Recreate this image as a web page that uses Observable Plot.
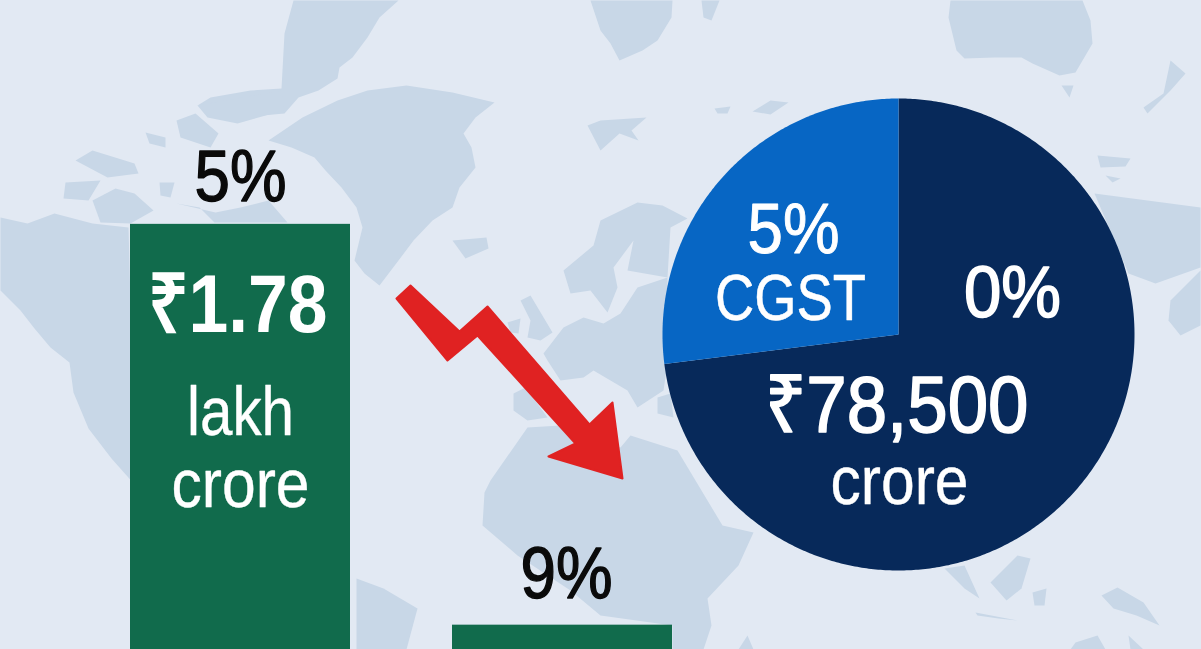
<!DOCTYPE html>
<html>
<head>
<meta charset="utf-8">
<style>html,body{margin:0;padding:0;background:#e2e9f3;overflow:hidden}svg{display:block}</style>
<script src="https://cdn.jsdelivr.net/npm/d3@7"></script>
<script src="https://cdn.jsdelivr.net/npm/@observablehq/plot@0.6"></script>
</head>
<body>
<script>
// Chart data
const barRates = ["5%", "9%"];
const barValues = [1.78, 0.785]; // lakh crore
const sliceNames = ["0%", "5% CGST"];
const sliceShares = [73, 27];

// Backdrop world-map shapes
const land = [
  [[293,0],[398,0],[379,17],[367,37],[352,57],[339,67],[337,78],[318,90],[298,97],[284,113],[262,115],[225,108],[197,105],[210,97],[250,90],[281,88],[284,33]],
  [[268,140],[302,117],[337,100],[367,90],[406,85],[452,92],[494,102],[475,117],[463,133],[471,147],[475,167],[459,187],[452,207],[432,220],[413,240],[398,260],[379,285],[364,273],[354,260],[362,227],[356,207],[341,187],[325,170],[314,157],[291,147]],
  [[65,182],[100,180],[88,200],[63,198]],
  [[92,200],[115,188],[134,193],[153,210],[130,223],[100,222]],
  [[75,160],[92,150],[134,163],[138,173],[107,177]],
  [[176,120],[195,113],[218,133],[210,147],[180,137]],
  [[197,105],[281,90],[283,110],[237,123],[207,117]],
  [[145,132],[165,137],[165,147],[149,143]],
  [[176,203],[199,207],[214,222],[287,222],[268,200],[240,207],[215,212]],
  [[159,182],[174,182],[170,197],[160,195]],
  [[0,217],[27,223],[54,213],[92,223],[128,227],[135,485],[111,458],[88,428],[73,392],[69,362],[50,347],[34,328],[20,310],[0,290]],
  [[356,578],[383,588],[417,608],[406,649],[356,649]],
  [[950,0],[948,17],[956,50],[964,58],[994,57],[1021,57],[1032,63],[1059,75],[1075,72],[1092,43],[1090,20],[1082,0]],
  [[1061,85],[1073,85],[1069,97]],
  [[590,0],[672,0],[671,17],[657,40],[642,50],[619,60],[610,43],[600,30]],
  [[701,0],[719,0],[711,20],[703,17]],
  [[1170,60],[1185,73],[1170,90],[1147,113],[1143,107],[1163,93]],
  [[714,108],[730,106],[727,113],[717,113]],
  [[752,111],[770,100],[788,102],[770,114]],
  [[587,125],[600,120],[646,117],[631,130],[638,140],[619,133],[600,150]],
  [[452,240],[486,237],[488,248],[465,258]],
  [[563,270],[593,245],[600,220],[637,202],[662,205],[687,218],[670,227],[667,277],[627,270],[633,240],[613,267],[617,287],[607,312],[590,290],[570,293]],
  [[543,353],[563,327],[583,317],[603,323],[620,313],[637,287],[667,277],[667,363],[663,390],[637,407],[627,390],[593,370],[583,377],[560,380],[547,360]],
  [[520,300],[530,295],[552,332],[540,340],[527,337],[530,320]],
  [[507,322],[520,318],[518,333],[510,332]],
  [[513,393],[525,387],[547,417],[527,420],[513,410]],
  [[657,397],[670,393],[673,417],[657,413]],
  [[484,492],[490,480],[527,427],[560,425],[620,447],[630,435],[677,450],[692,475],[722,525],[753,532],[738,565],[707,598],[711,625],[703,649],[672,649],[672,625],[600,615],[570,590],[517,555],[482,525]],
  [[1094,193],[1200,207],[1200,267],[1155,283],[1128,273]],
  [[1097,155],[1130,158],[1125,166],[1100,167]],
  [[1105,175],[1120,178],[1112,182]],
  [[1170,300],[1200,270],[1200,325],[1180,335],[1168,320]],
  [[990,582],[1017,555],[1030,558],[1021,588],[1006,600]],
  [[1101,595],[1117,587],[1143,602],[1159,625],[1136,615],[1113,608]],
  [[1032,592],[1046,588],[1044,605],[1034,605]],
  [[944,568],[964,565],[979,598],[964,588]],
  [[975,612],[1017,620],[998,618],[977,615]],
  [[1075,642],[1097,635],[1105,649],[1070,649]],
  [[1128,635],[1143,649],[1130,649]],
  [[738,649],[747,635],[753,649]]
];
const arrowShape = [[396,298],[447,360],[477,335],[575,443],[548,456],[622,478],[612,402],[589,424],[487,306],[459,331],[410,285]];

// Label text
const pieLabels = [
  {text: "5%", x: 793, y: 252, size: 70, halo: 1},
  {text: "CGST", x: 790, y: 319, size: 64, halo: 0.5},
  {text: "0%", x: 1012, y: 316, size: 72, halo: 1.6},
  {text: "₹78,500", x: 896, y: 431, size: 80, halo: 1.6},
  {text: "crore", x: 899, y: 503, size: 68, halo: 0.4}
];
const fittedWidths = {"5%": 92, "9%": 92, "0%": 97, "CGST": 151, "₹78,500": 264, "crore": 138, "lakh": 107, "₹1.78": 180};

// Styles
const colors = {bg: "#e2e9f3", land: "#c8d7e7", green: "#116b4c", navy: "#07295a", blue: "#0766c4", red: "#e02222"};
const font = "'Liberation Sans', Arial, sans-serif";
const pieCentre = [898, 334], pieRadius = 236;

const asPolygon = (ring, properties = {}) => ({type: "Feature", properties, geometry: {type: "Polygon", coordinates: [[...ring, ring[0]]]}});

const arcs = d3.pie().sort(null).value(d => d)(sliceShares);
const sliceFeatures = arcs.map((a, i) => {
  const n = Math.ceil((a.endAngle - a.startAngle) / 0.01);
  const ring = [pieCentre];
  for (let k = 0; k <= n; ++k) {
    const t = a.startAngle + (a.endAngle - a.startAngle) * k / n;
    ring.push([pieCentre[0] + pieRadius * Math.sin(t), pieCentre[1] - pieRadius * Math.cos(t)]);
  }
  return asPolygon(ring, {name: sliceNames[i]});
});

const backdrop = Plot.plot({
  width: 1201, height: 649, margin: 0,
  style: {background: colors.bg, fontFamily: font},
  x: {domain: [0, 1201], range: [0, 1201], axis: null},
  y: {domain: [0, 649], range: [0, 649], axis: null},
  color: {domain: sliceNames, range: [colors.navy, colors.blue]},
  marks: [
    Plot.geo(land.map(r => asPolygon(r)), {fill: colors.land}),
    Plot.geo([asPolygon(arrowShape)], {fill: colors.red, stroke: colors.red, strokeWidth: 2, strokeLinejoin: "round"}),
    Plot.geo(sliceFeatures, {fill: d => d.properties.name}),
    ...pieLabels.map(l => Plot.text([l], {
      x: "x", y: "y", text: "text", fill: "white", stroke: "white", strokeWidth: l.halo,
      fontSize: l.size, lineAnchor: "bottom", textAnchor: "middle"
    }))
  ]
});

const bars = barRates.map((rate, i) => ({rate, value: barValues[i]}));
const first = [bars[0]], second = [bars[1]];
const barText = (data, text, dy, size, o = {}) => Plot.text(data, {
  x: "rate", y: "value", text: () => text, dy, fontSize: size, lineAnchor: "bottom", textAnchor: "middle", ...o
});

const chart = Plot.plot({
  width: 1201, height: 649, margin: 0,
  style: {background: "transparent", fontFamily: font},
  x: {type: "band", domain: barRates, range: [130, 672], paddingInner: 102 / 322, paddingOuter: 0, axis: null},
  y: {domain: [0.7246, 2.3357], range: [649, 0], axis: null},
  marks: [
    () => backdrop,
    Plot.barY(bars, {x: "rate", y: "value", fill: colors.green, clip: true}),
    barText(first, "5%", -23, 72, {fill: "#0a0a0a", stroke: "#0a0a0a", strokeWidth: 1.4}),
    barText(second, "9%", -27, 72, {dx: 4, fill: "#0a0a0a", stroke: "#0a0a0a", strokeWidth: 1.4}),
    barText(first, "₹1.78", 108, 82, {dx: -3, fill: "white", fontWeight: "bold"}),
    barText(first, "lakh", 211, 68, {fill: "white", stroke: "white", strokeWidth: 0.4}),
    barText(first, "crore", 283, 68, {fill: "white", stroke: "white", strokeWidth: 0.4})
  ]
});

chart.querySelectorAll("text").forEach(t => {
  const w = fittedWidths[t.textContent];
  if (w) {
    t.setAttribute("textLength", w);
    t.setAttribute("lengthAdjust", "spacingAndGlyphs");
  }
});
document.body.appendChild(chart);
</script>
</body>
</html>
